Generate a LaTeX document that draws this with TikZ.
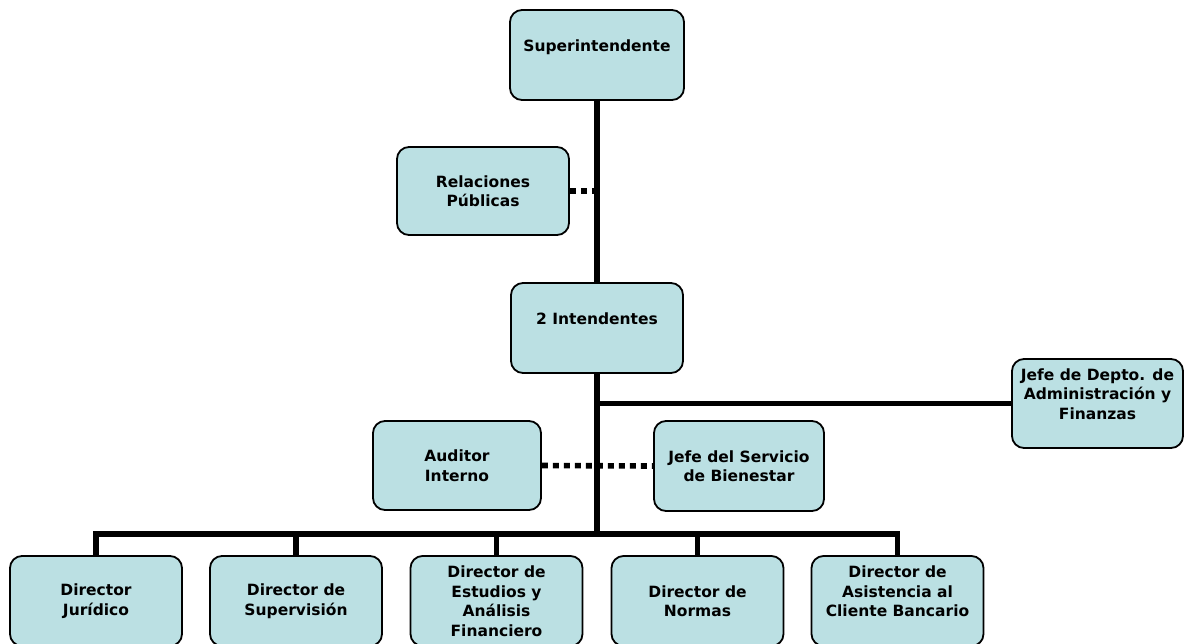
\documentclass[tikz,border=0pt]{standalone}
\usepackage{fontspec}
\setmainfont{DejaVu Sans}
\definecolor{boxfill}{RGB}{187,224,227}
\tikzset{
  orgbox/.style={draw=black, line width=1.8pt, fill=boxfill, rounded corners=12pt,
    align=center, font=\fontsize{15.5}{19.5}\selectfont\bfseries, inner sep=0pt},
  solidlink/.style={draw=black, line width=5.6pt, line join=miter},
  dotlink/.style={draw=black, line width=5.6pt, dash pattern=on 6pt off 5pt}
}
\begin{document}
\begin{tikzpicture}[x=1pt,y=-1pt]
\useasboundingbox (0,0) rectangle (1184,643);
\node[orgbox, minimum width=174pt, minimum height=90pt] (sup) at (597,55) {Superintendente\\\mbox{}};
\node[orgbox, minimum width=172pt, minimum height=88pt] (rel) at (483,191) {Relaciones\\Públicas};
\node[orgbox, minimum width=172pt, minimum height=90pt] (int) at (597,328) {2 Intendentes\\\mbox{}};
\node[orgbox, minimum width=171pt, minimum height=89pt] (adm) at (1097.5,403.5) {Jefe de Depto. de\\Administración y\\Finanzas\\\mbox{}};
\node[orgbox, minimum width=168pt, minimum height=89pt] (aud) at (457,465.5) {Auditor\\Interno};
\node[orgbox, minimum width=170pt, minimum height=90pt] (bien) at (739,466) {Jefe del Servicio\\de Bienestar};
\node[orgbox, minimum width=172pt, minimum height=90pt] (d1) at (96,601) {Director\\Jurídico};
\node[orgbox, minimum width=172pt, minimum height=90pt] (d2) at (296,601) {Director de\\Supervisión};
\node[orgbox, minimum width=172pt, minimum height=90pt] (d3) at (496.5,601) {Director de\\Estudios y\\Análisis\\Financiero};
\node[orgbox, minimum width=172pt, minimum height=90pt] (d4) at (697.5,601) {Director de\\Normas};
\node[orgbox, minimum width=172pt, minimum height=90pt] (d5) at (897.5,601) {Director de\\Asistencia al\\Cliente Bancario\\\mbox{}};
\coordinate (busc) at (597,534);
\draw[solidlink] (sup.south) -- (int.north);
\draw[dotlink] (rel.east) -- (rel.east -| sup.south);
\draw[solidlink] (int.south) -- (busc);
\draw[solidlink] (adm.west -| int.south) -- (adm.west);
\draw[dotlink] (aud.east) -- (bien.west);
\draw[solidlink] (d1.north) |- (d5.north |- busc) -- (d5.north);
\draw[solidlink] (d2.north |- busc) -- (d2.north);
\draw[solidlink] (d3.north |- busc) -- (d3.north);
\draw[solidlink] (d4.north |- busc) -- (d4.north);
\end{tikzpicture}
\end{document}
